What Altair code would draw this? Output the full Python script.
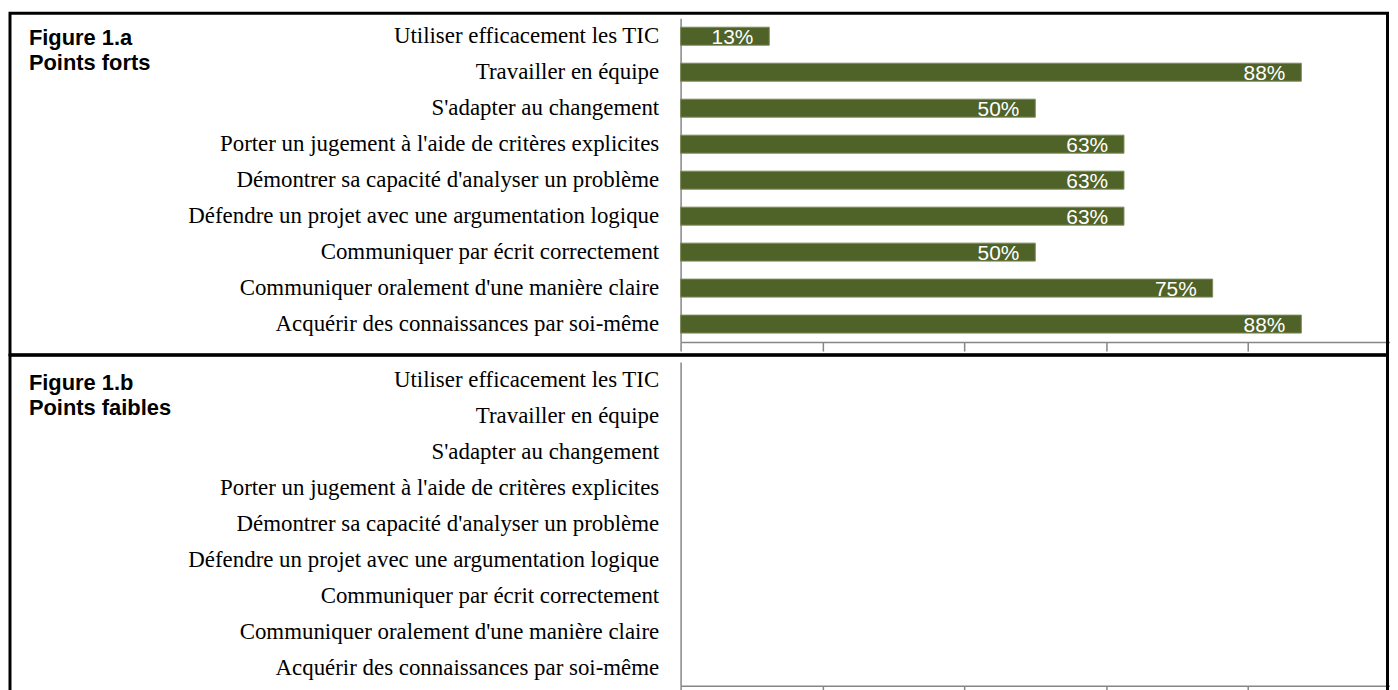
import altair as alt
import pandas as pd

categories = [
    "Utiliser efficacement les TIC",
    "Travailler en équipe",
    "S'adapter au changement",
    "Porter un jugement à l'aide de critères explicites",
    "Démontrer sa capacité d'analyser un problème",
    "Défendre un projet avec une argumentation logique",
    "Communiquer par écrit correctement",
    "Communiquer oralement d'une manière claire\u00a0",
    "Acquérir des connaissances par soi-même",
]
forts_values = [0.125, 0.875, 0.5, 0.625, 0.625, 0.625, 0.5, 0.75, 0.875]
faibles_values = [0, 0, 0, 0, 0, 0, 0, 0, 0]
panel_titles = ["Figure 1.a\nPoints forts", "Figure 1.b\nPoints faibles"]
tick_values = [0, 0.2, 0.4, 0.6, 0.8]

W = 713
H = 325.5
BAR = "#4F6228"
GRAY = "#868686"


def panel(values, title, show_labels, frame_top, frame_bottom, title_y):
    df = pd.DataFrame({"cat": categories, "v": values})
    base = alt.Chart(df)
    y = alt.Y(
        "cat:N",
        sort=categories,
        scale=alt.Scale(paddingInner=0.5, paddingOuter=0.25),
        axis=alt.Axis(
            title=None,
            labelFont="Liberation Serif",
            labelFontSize=23,
            labelColor="black",
            labelPadding=22,
            ticks=False,
            tickSize=0,
            domainColor=GRAY,
            domainWidth=1.5,
            labelLimit=0,
        ),
    )
    x = alt.X(
        "v:Q",
        scale=alt.Scale(domain=[0, 1], nice=False),
        axis=alt.Axis(
            title=None,
            labels=False,
            grid=False,
            values=tick_values,
            tickSize=9,
            tickColor=GRAY,
            tickWidth=1.5,
            domainColor=GRAY,
            domainWidth=1.5,
        ),
    )
    if show_labels:
        bars = base.mark_bar(color=BAR, stroke="#7d8b5a", strokeWidth=1).encode(x=x, y=y)
    else:
        bars = base.mark_bar(color=BAR, strokeWidth=0).encode(x=x, y=y)
    layers = [bars]
    if show_labels:
        labels = base.mark_text(
            align="right",
            baseline="alphabetic",
            dx=-16,
            dy=8,
            color="white",
            font="Liberation Sans",
            fontSize=21,
        ).encode(
            x=alt.X("v:Q"),
            y=alt.Y("cat:N", sort=categories),
            text=alt.Text("v:Q", format=".0%"),
        )
        layers.append(labels)
    one = pd.DataFrame({"t": [title]})
    ttl = alt.Chart(one).mark_text(
        align="left",
        baseline="alphabetic",
        font="Liberation Sans",
        fontWeight="bold",
        fontSize=22,
        lineBreak="\n",
        lineHeight=25,
        color="black",
    ).encode(x=alt.value(-655), y=alt.value(title_y), text="t:N")
    frame = alt.Chart(one).mark_rect(
        fillOpacity=0, stroke="black", strokeWidth=3
    ).encode(
        x=alt.value(-674),
        x2=alt.value(710.5),
        y=alt.value(frame_top),
        y2=alt.value(frame_bottom),
    )
    return alt.layer(*layers, ttl, frame).properties(width=W, height=H)


p1 = panel(forts_values, panel_titles[0], True, -5, 338.3, 27)
p2 = panel(faibles_values, panel_titles[1], False, -6.7, H + 20, 28)

chart = (
    alt.vconcat(p1, p2, spacing=19.5, bounds="flush")
    .properties(padding={"left": 0, "top": 1.5, "right": 0, "bottom": 0})
    .configure_view(stroke=None)
)

chart.save("out.html", embed_options={"renderer": "svg", "actions": False})
